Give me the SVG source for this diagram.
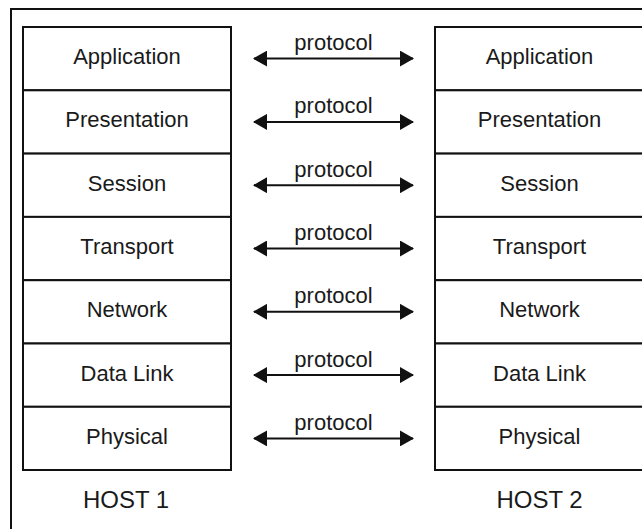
<svg xmlns="http://www.w3.org/2000/svg" width="642" height="529" viewBox="0 0 642 529">
<style>
.frame{fill:#fff;stroke:#111;stroke-width:2}
.box{fill:#fff;stroke:#111;stroke-width:2}
.lbl{font-family:"Liberation Sans",Arial,sans-serif;font-size:22px;fill:#1a1a1a;text-anchor:middle}
.host{font-family:"Liberation Sans",Arial,sans-serif;font-size:24px;fill:#1a1a1a;text-anchor:middle}
.proto{font-family:"Liberation Sans",Arial,sans-serif;font-size:22px;fill:#1a1a1a;text-anchor:middle}
.conn{stroke:#111;stroke-width:2;fill:none;marker-start:url(#ah);marker-end:url(#ah)}
</style>
<defs>
<marker id="ah" viewBox="0 0 14 16" refX="13" refY="8" markerWidth="14" markerHeight="16" markerUnits="userSpaceOnUse" orient="auto-start-reverse">
<path d="M0,0 L14,8 L0,16 Z" fill="#111"/>
</marker>
</defs>
<rect class="frame" x="11" y="9" width="645" height="540"/>
<g id="host1">
<g id="h1-application"><rect class="box" x="23" y="27" width="208" height="63.3"/><text class="lbl" x="127" y="64">Application</text></g>
<g id="h1-presentation"><rect class="box" x="23" y="90.3" width="208" height="63.3"/><text class="lbl" x="127" y="127.3">Presentation</text></g>
<g id="h1-session"><rect class="box" x="23" y="153.6" width="208" height="63.3"/><text class="lbl" x="127" y="190.6">Session</text></g>
<g id="h1-transport"><rect class="box" x="23" y="216.9" width="208" height="63.3"/><text class="lbl" x="127" y="253.9">Transport</text></g>
<g id="h1-network"><rect class="box" x="23" y="280.2" width="208" height="63.3"/><text class="lbl" x="127" y="317.2">Network</text></g>
<g id="h1-datalink"><rect class="box" x="23" y="343.5" width="208" height="63.3"/><text class="lbl" x="127" y="380.5">Data Link</text></g>
<g id="h1-physical"><rect class="box" x="23" y="406.8" width="208" height="63.2"/><text class="lbl" x="127" y="443.8">Physical</text></g>
<text class="host" x="126" y="507.5">HOST 1</text>
</g>
<g id="host2">
<g id="h2-application"><rect class="box" x="435" y="27" width="208" height="63.3"/><text class="lbl" x="539.5" y="64">Application</text></g>
<g id="h2-presentation"><rect class="box" x="435" y="90.3" width="208" height="63.3"/><text class="lbl" x="539.5" y="127.3">Presentation</text></g>
<g id="h2-session"><rect class="box" x="435" y="153.6" width="208" height="63.3"/><text class="lbl" x="539.5" y="190.6">Session</text></g>
<g id="h2-transport"><rect class="box" x="435" y="216.9" width="208" height="63.3"/><text class="lbl" x="539.5" y="253.9">Transport</text></g>
<g id="h2-network"><rect class="box" x="435" y="280.2" width="208" height="63.3"/><text class="lbl" x="539.5" y="317.2">Network</text></g>
<g id="h2-datalink"><rect class="box" x="435" y="343.5" width="208" height="63.3"/><text class="lbl" x="539.5" y="380.5">Data Link</text></g>
<g id="h2-physical"><rect class="box" x="435" y="406.8" width="208" height="63.2"/><text class="lbl" x="539.5" y="443.8">Physical</text></g>
<text class="host" x="539.5" y="507.5">HOST 2</text>
</g>
<g id="connectors">
<line class="conn" x1="254" y1="58.6" x2="413" y2="58.6"/>
<line class="conn" x1="254" y1="121.9" x2="413" y2="121.9"/>
<line class="conn" x1="254" y1="185.2" x2="413" y2="185.2"/>
<line class="conn" x1="254" y1="248.5" x2="413" y2="248.5"/>
<line class="conn" x1="254" y1="311.8" x2="413" y2="311.8"/>
<line class="conn" x1="254" y1="375.1" x2="413" y2="375.1"/>
<line class="conn" x1="254" y1="438.4" x2="413" y2="438.4"/>
<text class="proto" x="333.5" y="50.1">protocol</text>
<text class="proto" x="333.5" y="113.4">protocol</text>
<text class="proto" x="333.5" y="176.7">protocol</text>
<text class="proto" x="333.5" y="240">protocol</text>
<text class="proto" x="333.5" y="303.3">protocol</text>
<text class="proto" x="333.5" y="366.6">protocol</text>
<text class="proto" x="333.5" y="429.9">protocol</text>
</g>
</svg>
